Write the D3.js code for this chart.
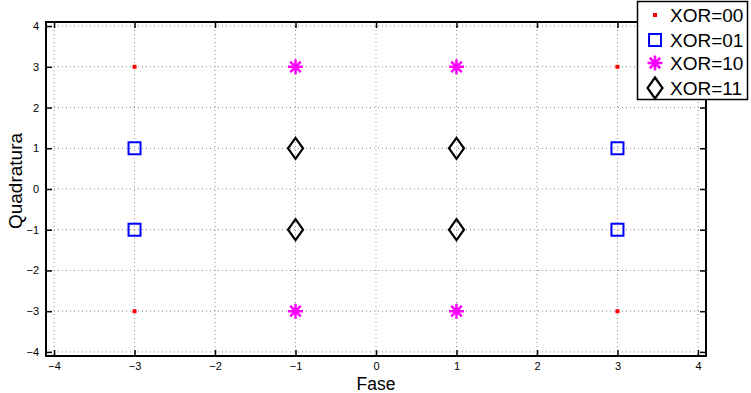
<!DOCTYPE html>
<html><head><meta charset="utf-8">
<script src="https://cdn.jsdelivr.net/npm/d3@7"></script>
<style>body{margin:0;background:#fff}svg{display:block;font-family:"Liberation Sans",Arial,sans-serif}</style>
</head><body>
<script>
const xTicks = [-4,-3,-2,-1,0,1,2,3,4];
const yTicks = [-4,-3,-2,-1,0,1,2,3,4];
const xor00 = [[-3,3],[3,3],[-3,-3],[3,-3]];
const xor01 = [[-3,1],[3,1],[-3,-1],[3,-1]];
const xor10 = [[-1,3],[1,3],[-1,-3],[1,-3]];
const xor11 = [[-1,1],[1,1],[-1,-1],[1,-1]];
const legendLabels = ["XOR=00","XOR=01","XOR=10","XOR=11"];
const xLabel = "Fase", yLabel = "Quadratura";

(function(){
const W=751,H=393;
const L=46,R=706,T=22,B=356;
const svg=d3.select("body").append("svg").attr("width",W).attr("height",H);
const x=d3.scaleLinear().domain([-4.1,4.1]).range([L,R]);
const y=d3.scaleLinear().domain([-4.1,4.1]).range([B,T]);
const fmt=d=>d<0?"\u2212"+Math.abs(d):String(d);

// grid
const g=svg.append("g");
g.selectAll(".gx").data(xTicks).join("line").attr("x1",d=>x(d)).attr("x2",d=>x(d)).attr("y1",T).attr("y2",B)
 .attr("stroke","#8a8a8a").attr("stroke-width",1).attr("stroke-dasharray","1,3");
g.selectAll(".gy").data(yTicks).join("line").attr("y1",d=>y(d)).attr("y2",d=>y(d)).attr("x1",L).attr("x2",R)
 .attr("stroke","#8a8a8a").attr("stroke-width",1).attr("stroke-dasharray","1,3");

// axes with inward ticks
const tl=6;
const axB=svg.append("g").attr("transform",`translate(0,${B})`).call(d3.axisBottom(x).tickValues(xTicks).tickSizeInner(-tl).tickSizeOuter(0).tickPadding(6).tickFormat(fmt));
const axT=svg.append("g").attr("transform",`translate(0,${T})`).call(d3.axisTop(x).tickValues(xTicks).tickSizeInner(-tl).tickSizeOuter(0).tickFormat(""));
const axL=svg.append("g").attr("transform",`translate(${L},0)`).call(d3.axisLeft(y).tickValues(yTicks).tickSizeInner(-tl).tickSizeOuter(0).tickPadding(7).tickFormat(fmt));
const axR=svg.append("g").attr("transform",`translate(${R},0)`).call(d3.axisRight(y).tickValues(yTicks).tickSizeInner(-tl).tickSizeOuter(0).tickFormat(""));
[axB,axT,axL,axR].forEach(a=>{
  a.select(".domain").remove();
  a.selectAll(".tick line").attr("stroke","#000").attr("stroke-width",1.5);
  a.selectAll("text").attr("font-size",11).attr("fill","#000").attr("font-family","Liberation Sans, Arial, sans-serif");
});
svg.append("rect").attr("x",L).attr("y",T).attr("width",R-L).attr("height",B-T)
 .attr("fill","none").attr("stroke","#000").attr("stroke-width",2);

// axis labels
svg.append("text").attr("x",376).attr("y",390).attr("text-anchor","middle").attr("font-size",17.5).text(xLabel);
svg.append("text").attr("transform","translate(22,181) rotate(-90)").attr("text-anchor","middle").attr("font-size",19).text(yLabel);

// markers
function drawMarker(sel,type){
  if(type===0){
    sel.append("rect").attr("x",-2).attr("y",-2).attr("width",4).attr("height",4).attr("fill","#ff0000");
  } else if(type===1){
    sel.append("rect").attr("x",-6).attr("y",-6).attr("width",12).attr("height",12).attr("fill","none").attr("stroke","#0000ff").attr("stroke-width",2);
  } else if(type===2){
    const r=7.5, p=[];
    [[0,1],[1,0],[0.7,0.7],[0.7,-0.7]].forEach(([a,b])=>p.push(`M${-a*r},${-b*r}L${a*r},${b*r}`));
    sel.append("path").attr("d",p.join("")).attr("stroke","#ff00ff").attr("stroke-width",2.5).attr("fill","none");
  } else {
    sel.append("path").attr("d","M0,-10.5L7.5,0L0,10.5L-7.5,0Z").attr("fill","none").attr("stroke","#000").attr("stroke-width",2.2);
  }
}
[xor00,xor01,xor10,xor11].forEach((data,i)=>{
  svg.append("g").selectAll("g").data(data).join("g")
   .attr("transform",d=>`translate(${x(d[0])},${y(d[1])})`)
   .each(function(){drawMarker(d3.select(this),i);});
});

// legend
const lg=svg.append("g");
lg.append("rect").attr("x",637.5).attr("y",1.5).attr("width",110).attr("height",98).attr("fill","#fff").attr("stroke","#000").attr("stroke-width",1.5);
const ly=[15,40,63,88];
legendLabels.forEach((t,i)=>{
  const m=lg.append("g").attr("transform",`translate(655,${ly[i]})`);
  drawMarker(m,i);
  lg.append("text").attr("x",670).attr("y",ly[i]).attr("dy","0.36em").attr("font-size",19).text(t);
});
})();
</script>
</body></html>
